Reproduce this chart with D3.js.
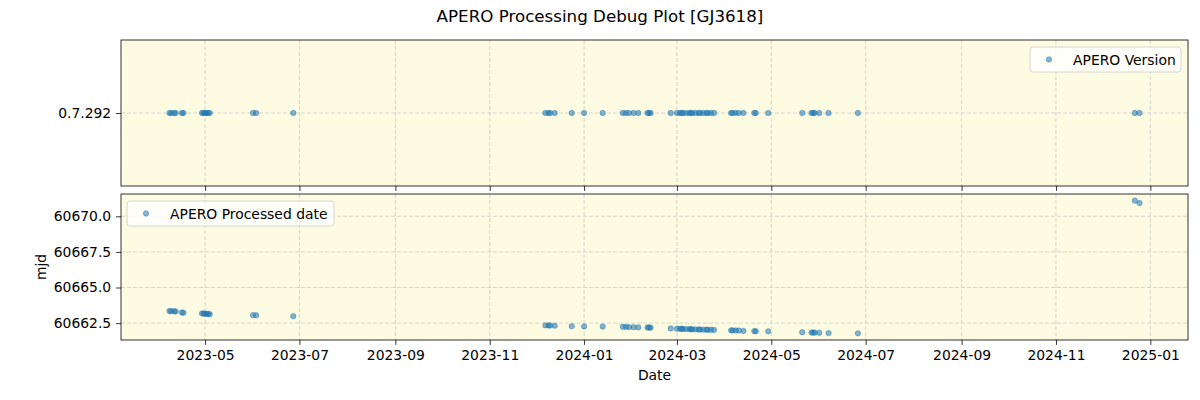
<!DOCTYPE html>
<html>
<head>
<meta charset="utf-8">
<script src="https://cdn.jsdelivr.net/npm/d3@7"></script>
<style>
  html, body { margin: 0; padding: 0; background: #ffffff; }
  svg { display: block; font-family: "DejaVu Sans", sans-serif; }
</style>
</head>
<body>
<svg id="chart" width="1200" height="400"></svg>
<script>
// ---- data ----
const dates = [
  "2023-04-08","2023-04-09","2023-04-11","2023-04-12","2023-04-16","2023-04-17",
  "2023-04-29","2023-04-30","2023-05-01","2023-05-02","2023-05-03","2023-05-04",
  "2023-06-01","2023-06-03","2023-06-27",
  "2023-12-07","2023-12-09","2023-12-10","2023-12-13","2023-12-24",
  "2024-01-01","2024-01-13","2024-01-26","2024-01-28","2024-01-30","2024-02-02","2024-02-05",
  "2024-02-11","2024-02-12","2024-02-13","2024-02-26",
  "2024-03-01","2024-03-03","2024-03-04","2024-03-05","2024-03-07","2024-03-09","2024-03-10","2024-03-11",
  "2024-03-13","2024-03-15","2024-03-16","2024-03-18","2024-03-20","2024-03-21","2024-03-23","2024-03-25",
  "2024-04-05","2024-04-06","2024-04-08","2024-04-10","2024-04-13","2024-04-20","2024-04-21","2024-04-29",
  "2024-05-21","2024-05-27","2024-05-28","2024-05-29","2024-06-01","2024-06-07","2024-06-26",
  "2024-12-22","2024-12-25"
];
const mjdValues = [
  60663.35, 60663.34, 60663.33, 60663.32, 60663.25, 60663.23,
  60663.18, 60663.17, 60663.16, 60663.15, 60663.14, 60663.13,
  60663.06, 60663.05, 60662.99,
  60662.34, 60662.34, 60662.33, 60662.32, 60662.28,
  60662.27, 60662.26, 60662.24, 60662.23, 60662.22, 60662.21, 60662.20,
  60662.19, 60662.19, 60662.18, 60662.13,
  60662.11, 60662.10, 60662.10, 60662.09, 60662.08, 60662.08, 60662.07, 60662.07,
  60662.06, 60662.05, 60662.05, 60662.04, 60662.04, 60662.03, 60662.03, 60662.02,
  60661.99, 60661.99, 60661.98, 60661.98, 60661.95, 60661.94, 60661.93, 60661.92,
  60661.86, 60661.84, 60661.84, 60661.83, 60661.82, 60661.80, 60661.78,
  60671.10, 60670.93
];
const versions = [
  "0.7.292","0.7.292","0.7.292","0.7.292","0.7.292","0.7.292",
  "0.7.292","0.7.292","0.7.292","0.7.292","0.7.292","0.7.292",
  "0.7.292","0.7.292","0.7.292",
  "0.7.292","0.7.292","0.7.292","0.7.292","0.7.292",
  "0.7.292","0.7.292","0.7.292","0.7.292","0.7.292","0.7.292","0.7.292",
  "0.7.292","0.7.292","0.7.292","0.7.292",
  "0.7.292","0.7.292","0.7.292","0.7.292","0.7.292","0.7.292","0.7.292","0.7.292",
  "0.7.292","0.7.292","0.7.292","0.7.292","0.7.292","0.7.292","0.7.292","0.7.292",
  "0.7.292","0.7.292","0.7.292","0.7.292","0.7.292","0.7.292","0.7.292","0.7.292",
  "0.7.292","0.7.292","0.7.292","0.7.292","0.7.292","0.7.292","0.7.292",
  "0.7.292","0.7.292"
];
const versionCategories = ["0.7.292"];
const mjdTicks = [60662.5, 60665.0, 60667.5, 60670.0];
const xTickLabels = ["2023-05","2023-07","2023-09","2023-11","2024-01","2024-03",
                     "2024-05","2024-07","2024-09","2024-11","2025-01"];
const titleText = "APERO Processing Debug Plot [GJ3618]";
const legendTop = "APERO Version";
const legendBottom = "APERO Processed date";

// ---- layout ----
const svg = d3.select("#chart");
const L = 121, R = 1188;
const top1 = 40, bot1 = 186, top2 = 194, bot2 = 340;
const bg = "#fdfbe1";
const dotColor = "#1f77b4";
const gridColor = "#cbcbcb";
const gridDash = "4,2";
const fontTick = 13.9;

const parse = d3.utcParse("%Y-%m-%d");
const tDates = dates.map(parse);
const tMin = d3.min(tDates), tMax = d3.max(tDates);
const span = tMax - tMin;
const x = d3.scaleUtc()
  .domain([new Date(+tMin - span * 0.05), new Date(+tMax + span * 0.05)])
  .range([L, R]);

const yMin = d3.min(mjdValues), yMax = d3.max(mjdValues);
const ySpan = yMax - yMin;
const y2 = d3.scaleLinear()
  .domain([yMin - ySpan * 0.05, yMax + ySpan * 0.05])
  .range([bot2, top2]);
const y1 = d3.scalePoint().domain(versionCategories).range([bot1, top1]).padding(0.5);

const xTickDates = xTickLabels.map(s => d3.utcParse("%Y-%m")(s));

// title
svg.append("text").attr("x", 600).attr("y", 22).attr("text-anchor", "middle")
  .attr("font-size", 16.7).attr("fill", "#000").text(titleText);

function panel(yTop, yBot) {
  svg.append("rect").attr("x", L).attr("y", yTop).attr("width", R - L).attr("height", yBot - yTop)
    .attr("fill", bg);
  svg.append("g").selectAll("line").data(xTickDates).join("line")
    .attr("x1", d => x(d)).attr("x2", d => x(d)).attr("y1", yTop).attr("y2", yBot)
    .attr("stroke", gridColor).attr("stroke-width", 0.8).attr("stroke-dasharray", gridDash);
}
panel(top1, bot1);
panel(top2, bot2);

// horizontal grids
svg.append("g").selectAll("line").data(versionCategories).join("line")
  .attr("x1", L).attr("x2", R).attr("y1", d => y1(d)).attr("y2", d => y1(d))
  .attr("stroke", gridColor).attr("stroke-width", 0.8).attr("stroke-dasharray", gridDash);
svg.append("g").selectAll("line").data(mjdTicks).join("line")
  .attr("x1", L).attr("x2", R).attr("y1", d => y2(d)).attr("y2", d => y2(d))
  .attr("stroke", gridColor).attr("stroke-width", 0.8).attr("stroke-dasharray", gridDash);

// points
const data = dates.map((d, i) => ({ t: tDates[i], v: versions[i], m: mjdValues[i] }));
function dots(yAcc) {
  svg.append("g").selectAll("circle").data(data).join("circle")
    .attr("cx", d => x(d.t)).attr("cy", yAcc).attr("r", 2.7)
    .attr("fill", dotColor).attr("fill-opacity", 0.55)
    .attr("stroke", dotColor).attr("stroke-opacity", 0.55).attr("stroke-width", 0.8);
}
dots(d => y1(d.v));
dots(d => y2(d.m));

// axes
function styleAxis(g) {
  g.select(".domain").remove();
  g.selectAll(".tick line").attr("stroke", "#000").attr("stroke-width", 0.8);
  g.selectAll(".tick text").attr("font-size", fontTick).attr("fill", "#000")
    .attr("font-family", "DejaVu Sans, sans-serif");
}
const fmt = d3.utcFormat("%Y-%m");
svg.append("g").attr("transform", `translate(0,${bot1})`)
  .call(d3.axisBottom(x).tickValues(xTickDates).tickSize(4.9).tickFormat(""))
  .call(styleAxis);
svg.append("g").attr("transform", `translate(0,${bot2})`)
  .call(d3.axisBottom(x).tickValues(xTickDates).tickSize(4.9).tickPadding(4.9).tickFormat(fmt))
  .call(styleAxis);
svg.append("g").attr("transform", `translate(${L},0)`)
  .call(d3.axisLeft(y1).tickSize(4.9).tickPadding(4.9))
  .call(styleAxis);
svg.append("g").attr("transform", `translate(${L},0)`)
  .call(d3.axisLeft(y2).tickValues(mjdTicks).tickSize(4.9).tickPadding(4.9).tickFormat(d3.format(".1f")))
  .call(styleAxis);

// frames
[[top1, bot1], [top2, bot2]].forEach(([a, b]) => {
  svg.append("rect").attr("x", L).attr("y", a).attr("width", R - L).attr("height", b - a)
    .attr("fill", "none").attr("stroke", "#000").attr("stroke-width", 0.8);
});

// axis labels
svg.append("text").attr("x", (L + R) / 2).attr("y", 380).attr("text-anchor", "middle")
  .attr("font-size", fontTick).text("Date");
svg.append("text").attr("transform", `translate(46,${(top2 + bot2) / 2}) rotate(-90)`)
  .attr("text-anchor", "middle").attr("font-size", fontTick).text("mjd");

// legends
function legend(x0, y0, w, label) {
  const g = svg.append("g");
  g.append("rect").attr("x", x0).attr("y", y0).attr("width", w).attr("height", 25)
    .attr("rx", 3).attr("fill", "#fff").attr("fill-opacity", 0.8)
    .attr("stroke", "#cccccc").attr("stroke-width", 0.8);
  g.append("circle").attr("cx", x0 + 19).attr("cy", y0 + 12.5).attr("r", 2.7)
    .attr("fill", dotColor).attr("fill-opacity", 0.55)
    .attr("stroke", dotColor).attr("stroke-opacity", 0.55).attr("stroke-width", 0.8);
  g.append("text").attr("x", x0 + 43).attr("y", y0 + 17.5).attr("font-size", fontTick)
    .attr("fill", "#000").text(label);
}
legend(1030, 47, 151, legendTop);
legend(127, 201, 207, legendBottom);
</script>
</body>
</html>
